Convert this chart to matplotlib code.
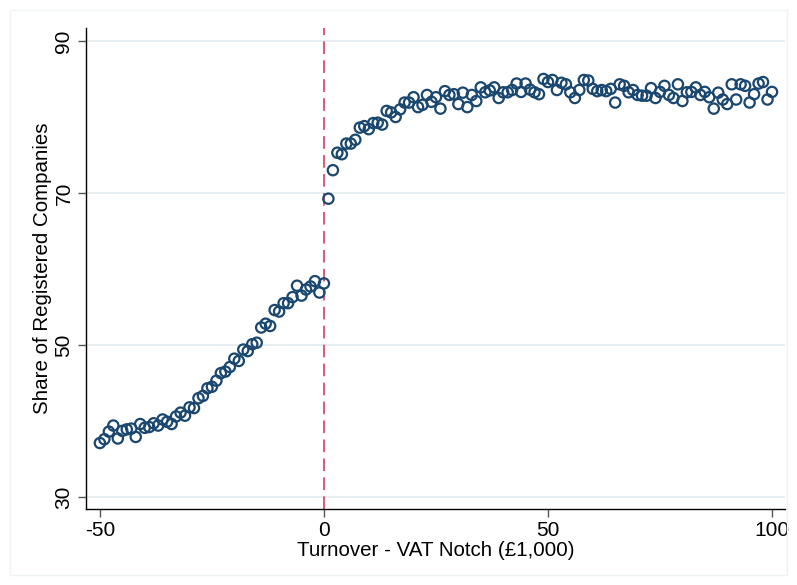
import matplotlib
matplotlib.use("Agg")
import matplotlib.pyplot as plt
from matplotlib.patches import Rectangle

# ---- data ----
x_left = list(range(-50, 1))
y_left = [37.1, 37.6, 38.6, 39.4, 37.7, 38.7, 38.9, 39.0, 37.9, 39.6,
          39.1, 39.2, 39.7, 39.4, 40.2, 39.9, 39.6, 40.6, 41.1, 40.7,
          41.8, 41.7, 43.0, 43.3, 44.3, 44.5, 45.3, 46.3, 46.5, 47.1,
          48.2, 47.9, 49.4, 49.2, 50.1, 50.3, 52.3, 52.8, 52.5, 54.6,
          54.4, 55.5, 55.5, 56.3, 57.8, 56.5, 57.3, 57.7, 58.4, 56.9,
          58.1]
x_right = list(range(1, 101))
y_right = [69.25, 73.0, 75.3, 75.1, 76.5, 76.5, 77.0, 78.6, 78.8, 78.4,
           79.2, 79.25, 79.0, 80.8, 80.6, 80.0, 81.0, 81.9, 81.9, 82.6,
           81.3, 81.6, 82.9, 82.0, 82.6, 81.1, 83.4, 82.9, 83.0, 81.7,
           83.2, 81.3, 82.9, 82.1, 83.9, 83.25, 83.5, 83.9, 82.5, 83.25,
           83.25, 83.55, 84.4, 83.3, 84.4, 83.6, 83.25, 83.0, 85.0, 84.6,
           84.87, 83.55, 84.5, 84.3, 83.25, 82.5, 83.55, 84.87, 84.8, 83.7,
           83.4, 83.55, 83.4, 83.7, 81.9, 84.3, 84.1, 83.25, 83.55, 82.9,
           82.8, 82.8, 83.8, 82.5, 83.3, 84.1, 82.9, 82.5, 84.3, 82.1,
           83.25, 83.3, 83.9, 82.9, 83.3, 82.6, 81.1, 83.2, 82.3, 81.7,
           84.3, 82.3, 84.3, 84.1, 81.9, 83.0, 84.4, 84.6, 82.3, 83.3]
x_ticks = [-50, 0, 50, 100]
y_ticks = [30, 50, 70, 90]
notch = 0
x_label = "Turnover - VAT Notch (£1,000)"
y_label = "Share of Registered Companies"

# ---- style ----
plt.rcParams['font.family'] = ['Liberation Sans', 'DejaVu Sans']
navy = "#1a476f"

fig = plt.figure(figsize=(7.97, 5.85), dpi=100)
fig.patch.set_facecolor("white")
ax = fig.add_axes([86/797, 1-509/585, (785-86)/797, (509-28)/585])

for yt in y_ticks:
    ax.axhline(yt, color="#e6eef1", lw=1.4, zorder=0)

ax.axvline(notch, color="#d94a73", lw=1.3, ls=(0, (7, 3.5)), zorder=1)

ax.scatter(x_left, y_left, s=55, facecolors="none", edgecolors=navy,
           linewidths=1.6, zorder=3)
ax.scatter(x_right, y_right, s=55, facecolors="none", edgecolors=navy,
           linewidths=1.6, zorder=3)

ax.set_xlim(-53.1, 102.9)
ax.set_ylim(28.42, 91.71)
ax.set_xticks(x_ticks)
ax.set_yticks(y_ticks)
ax.set_xticklabels([str(v) for v in x_ticks], fontsize=15)
ax.set_yticklabels([str(v) for v in y_ticks], fontsize=15, rotation=90,
                   va="center")
ax.tick_params(axis="both", direction="out", length=6, width=1.0,
               color="#555555", pad=3)
ax.set_xlabel(x_label, fontsize=14.8, labelpad=0)
ax.set_ylabel(y_label, fontsize=14.8, labelpad=2)

for s in ["top", "right"]:
    ax.spines[s].set_visible(False)
for s in ["left", "bottom"]:
    ax.spines[s].set_linewidth(1.0)
    ax.spines[s].set_color("black")

fig.patches.append(Rectangle((10/797, 10/585), 777/797, 565/585,
                             transform=fig.transFigure, fill=False,
                             edgecolor="#eef3f6", lw=1.0))

fig.savefig("out.png", dpi=100, facecolor="white")
